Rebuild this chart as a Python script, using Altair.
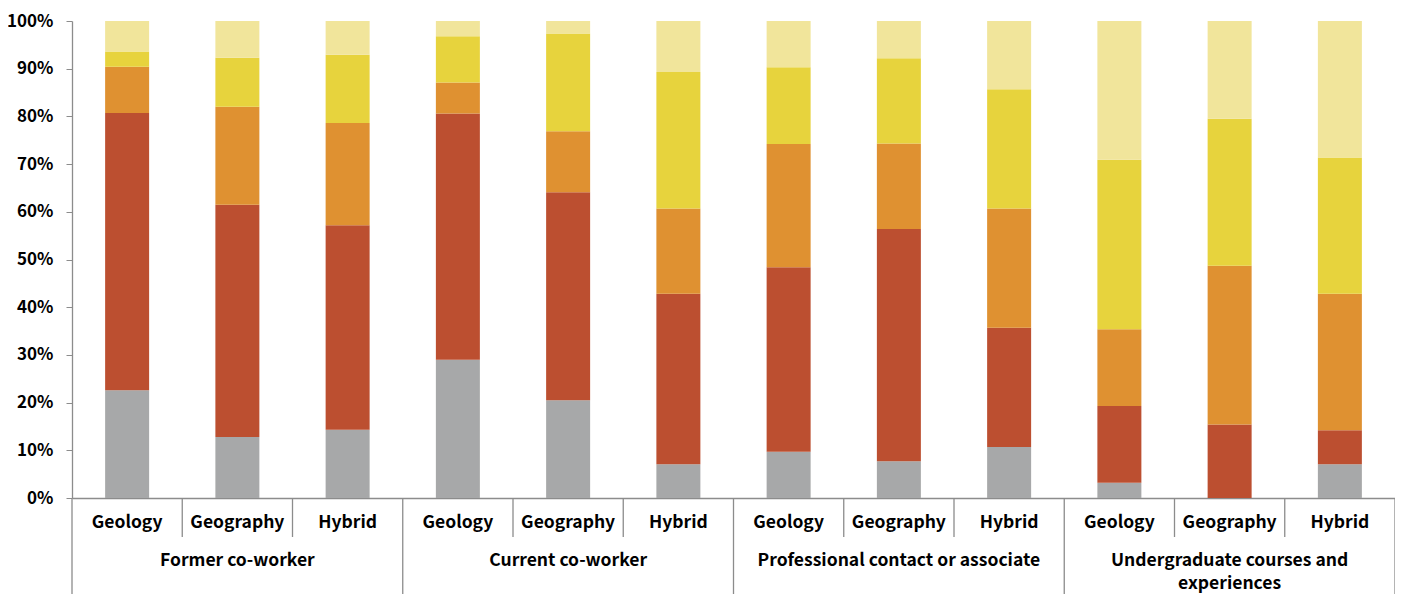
import altair as alt
import pandas as pd

groups = ["Former co-worker", "Current co-worker",
          "Professional contact or associate", "Undergraduate courses and experiences"]
group_labels = ["Former co-worker", "Current co-worker",
                "Professional contact or associate", "Undergraduate courses and\nexperiences"]
programs = ["Geology", "Geography", "Hybrid"]
series = ["Response 1", "Response 2", "Response 3", "Response 4", "Response 5"]
colors = ["#A7A8A9", "#BC4F30", "#DF9131", "#E7D33D", "#F1E59B"]

# percentages, bottom segment first; one list per group, one row per program
former = [[22.6, 58.1, 9.7, 3.2, 6.4],
          [12.8, 48.7, 20.5, 10.3, 7.7],
          [14.3, 42.9, 21.4, 14.3, 7.1]]
current = [[29.0, 51.6, 6.5, 9.7, 3.2],
           [20.5, 43.6, 12.8, 20.5, 2.6],
           [7.1, 35.7, 17.9, 28.6, 10.7]]
professional = [[9.7, 38.7, 25.8, 16.1, 9.7],
                [7.7, 48.7, 17.9, 17.9, 7.8],
                [10.7, 25.0, 25.0, 25.0, 14.3]]
undergrad = [[3.2, 16.1, 16.1, 35.5, 29.1],
             [0.0, 15.4, 33.3, 30.8, 20.5],
             [7.1, 7.1, 28.6, 28.6, 28.6]]
all_values = [former, current, professional, undergrad]

sub_separators = [1, 2, 4, 5, 7, 8, 10, 11]
group_separators = [0, 3, 6, 9, 12]

keys = [f"{g}|{p}" for g in groups for p in programs]

rows = []
for g, gv in zip(groups, all_values):
    for p, pv in zip(programs, gv):
        for i, (s, v) in enumerate(zip(series, pv)):
            rows.append({"key": f"{g}|{p}", "series": s, "value": v, "order": i})
df = pd.DataFrame(rows)

sub_df = pd.DataFrame({"key": keys, "label": [p for g in groups for p in programs]})
grp_df = pd.DataFrame({"key": [f"{g}|Geography" for g in groups], "label": group_labels})
sep_sub_df = pd.DataFrame({"pos": sub_separators})
sep_grp_df = pd.DataFrame({"pos": group_separators})

W, H = 1323, 477
FONT = "Noto Sans CJK SC, Liberation Sans, Arial"
band = alt.Scale(domain=keys, paddingInner=0.6, paddingOuter=0.3)
lin = alt.Scale(domain=[0, 12], nice=False, zero=False)

bars = alt.Chart(df).mark_bar(size=44).encode(
    x=alt.X("key:N", scale=band, sort=keys,
            axis=alt.Axis(labels=False, ticks=False, title=None, domainColor="#8C8C8C", domainWidth=1.3)),
    y=alt.Y("value:Q", stack="normalize",
            scale=alt.Scale(domain=[0, 1], nice=False),
            axis=alt.Axis(format="%", values=[i / 10 for i in range(11)], title=None, grid=False,
                          labelFont=FONT, labelFontSize=17, labelFontWeight="bold",
                          labelColor="#000000", labelPadding=13, tickSize=6, tickColor="#8C8C8C",
                          domainColor="#8C8C8C", domainWidth=1.3)),
    color=alt.Color("series:N", scale=alt.Scale(domain=series, range=colors), legend=None),
    order=alt.Order("order:Q", sort="ascending"),
)

sub_text = alt.Chart(sub_df).mark_text(font=FONT, fontSize=17.5, fontWeight="bold", color="#000000",
                                       baseline="middle").encode(
    x=alt.X("key:N", scale=band, sort=keys, axis=None),
    y=alt.value(H + 25),
    text="label:N",
)

grp_text = alt.Chart(grp_df).mark_text(font=FONT, fontSize=17.5, fontWeight="bold", color="#000000",
                                       baseline="middle", lineBreak="\n", lineHeight=23).encode(
    x=alt.X("key:N", scale=band, sort=keys, axis=None),
    y=alt.value(H + 63),
    text="label:N",
)

rule_sub = alt.Chart(sep_sub_df).mark_rule(color="#8C8C8C", strokeWidth=1.3).encode(
    x=alt.X("pos:Q", scale=lin, axis=None),
    y=alt.value(H),
    y2=alt.value(H + 39),
)
rule_grp = alt.Chart(sep_grp_df).mark_rule(color="#8C8C8C", strokeWidth=1.3).encode(
    x=alt.X("pos:Q", scale=lin, axis=None),
    y=alt.value(H),
    y2=alt.value(H + 110),
)

chart = alt.layer(bars, sub_text, grp_text, rule_sub, rule_grp).resolve_scale(
    x="independent"
).properties(
    width=W, height=H,
    autosize=alt.AutoSizeParams(type="none"),
    padding={"left": 64, "top": 13, "right": 0, "bottom": 96},
    background="white",
).configure_view(stroke=None)

chart.save("out.html", embed_options={"renderer": "svg", "actions": False})
